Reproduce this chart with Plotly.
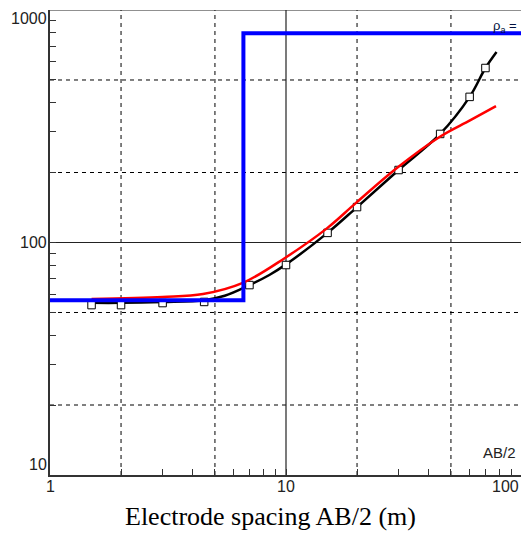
import math
import plotly.graph_objects as go

# ---- data ----
# field data (apparent resistivity), hollow squares
obs_x = [1.5, 2, 3, 4.5, 7, 10, 15, 20, 30, 45, 60, 70]
obs_y = [53.8, 53.8, 54.9, 55.5, 65.6, 80, 110, 142, 205, 293, 423, 563]

# black curve through field data
blk_x = [1.5, 2, 3, 4.5, 5.5, 7, 8.5, 10, 15, 20, 30, 45, 60, 70, 78]
blk_y = [55.0, 55.0, 55.5, 56.5, 59, 65.6, 72.5, 80.5, 110, 142, 205, 293, 423, 563, 660]

# red computed model response
red_x = [1.5, 3, 4.45, 6.56, 9.9, 14.9, 19.8, 29.5, 44.9, 60.2, 77.6]
red_y = [57.1, 58.3, 60.0, 67.0, 85.8, 115, 148, 209, 285, 335, 386]

# blue layered model (two layers)
layer_rho = [56.5, 795]
layer_boundary = 6.6
model_x = [1, layer_boundary, layer_boundary, 100]
model_y = [layer_rho[0], layer_rho[0], layer_rho[1], layer_rho[1]]

# axes
x_major = [1, 10, 100]
x_major_text = ["1", "10", "100"]
y_major = [10, 100, 1000]
y_major_text = ["10", "100", "1000"]
x_ticks = [1, 2, 3, 4, 5, 6, 7, 8, 9, 10, 20, 30, 40, 50, 60, 70, 80, 90, 100]
y_ticks = [10, 20, 30, 40, 50, 60, 70, 80, 90, 100, 200, 300, 400, 500, 600, 700, 800, 900, 1000]
x_dash = [2, 5, 20, 50]
y_dash = [20, 50, 200, 500]
x_solid = [10]
y_solid = [100, 1000]

fig = go.Figure()
fig.add_trace(go.Scatter(x=blk_x, y=blk_y, mode="lines", line=dict(color="black", width=2.5, shape="spline"),
                         showlegend=False, hoverinfo="skip"))
fig.add_trace(go.Scatter(x=obs_x, y=obs_y, mode="markers",
                         marker=dict(symbol="square", size=7.5, color="white", line=dict(color="black", width=1)),
                         showlegend=False))
fig.add_trace(go.Scatter(x=red_x, y=red_y, mode="lines", line=dict(color="#ff0000", width=2.5, shape="spline"),
                         showlegend=False))
fig.add_trace(go.Scatter(x=model_x, y=model_y, mode="lines", line=dict(color="#0000ff", width=4),
                         showlegend=False))

shapes = []
for v in x_dash:
    shapes.append(dict(type="line", xref="x", yref="paper", x0=v, x1=v, y0=0, y1=1,
                       line=dict(color="black", width=1, dash="4px,4px"), layer="below"))
for v in y_dash:
    shapes.append(dict(type="line", xref="paper", yref="y", x0=0, x1=1, y0=v, y1=v,
                       line=dict(color="black", width=1, dash="4px,4px"), layer="below"))
for v in x_solid:
    shapes.append(dict(type="line", xref="x", yref="paper", x0=v, x1=v, y0=0, y1=1,
                       line=dict(color="#222", width=1.2), layer="below"))
for v in y_solid:
    shapes.append(dict(type="line", xref="paper", yref="y", x0=0, x1=1, y0=v, y1=v,
                       line=dict(color="#222", width=1.2), layer="below"))

ann = []
tick_font = dict(family="Liberation Sans, Arial, sans-serif", size=16, color="#222")
for v, t in zip(x_major, x_major_text):
    if v == 100:
        ann.append(dict(x=1, xref="paper", y=0, yref="paper", text=t, showarrow=False,
                        xanchor="right", yanchor="top", yshift=-1, font=tick_font))
    else:
        ann.append(dict(x=math.log10(v), xref="x", y=0, yref="paper", text=t, showarrow=False,
                        xanchor="center", yanchor="top", yshift=-1, font=tick_font))
for v, t in zip(y_major, y_major_text):
    ya = {10: "bottom", 100: "middle", 1000: "top"}[v]
    ann.append(dict(x=0, xref="paper", y=math.log10(v), yref="y", text=t, showarrow=False,
                    xanchor="right", yanchor=ya, xshift=-1, yshift=(2 if v == 1000 else 0), font=tick_font))
ann.append(dict(x=1, xref="paper", y=0, yref="paper", text="AB/2", showarrow=False,
                xanchor="left", yanchor="bottom", xshift=-40, yshift=12,
                font=dict(family="Liberation Sans, Arial, sans-serif", size=15, color="#222")))
ann.append(dict(x=1, xref="paper", y=1, yref="paper", text="ρ<sub>a</sub> =", showarrow=False,
                xanchor="right", yanchor="middle", xshift=-2, yshift=-16,
                font=dict(family="Liberation Sans, Arial, sans-serif", size=13, color="#001040")))
ann.append(dict(x=0.5, xref="paper", y=0, yref="paper", text="Electrode spacing AB/2 (m)", showarrow=False,
                xanchor="center", yanchor="top", xshift=-15, yshift=-25,
                font=dict(family="Liberation Serif, Times New Roman, serif", size=26, color="black")))

axis_common = dict(type="log", showline=True, linecolor="#333", linewidth=2,
                   showgrid=False, ticks="inside", ticklen=6, tickcolor="#333", tickwidth=1,
                   showticklabels=False, zeroline=False, tickmode="array")

fig.update_layout(
    width=521, height=533,
    margin=dict(l=50, r=0, t=10, b=58),
    paper_bgcolor="white", plot_bgcolor="white",
    xaxis=dict(**axis_common, range=[0, 1.9958], tickvals=x_ticks),
    yaxis=dict(**axis_common, range=[1, 3], tickvals=y_ticks),
    shapes=shapes, annotations=ann, showlegend=False,
)

fig.write_html("out.html")
